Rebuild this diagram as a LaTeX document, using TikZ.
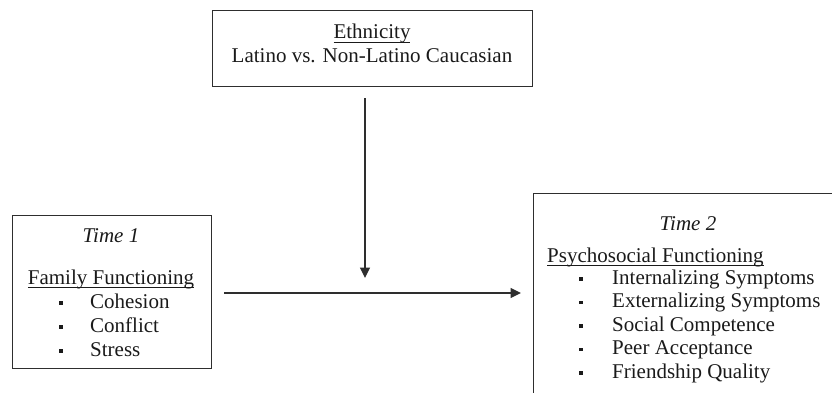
\documentclass[tikz,border=0pt]{standalone}
\usepackage{fontspec}
\setmainfont{Liberation Serif}
\usetikzlibrary{arrows.meta}
\definecolor{ink}{HTML}{1A1A1A}
\definecolor{linec}{HTML}{2E2E2E}
\newcommand\wul[1]{\setbox0\hbox{#1}\rlap{\rule[-4pt]{\wd0}{1.4pt}}\box0}
\tikzset{
  box/.style={draw=linec, line width=1.3pt, inner sep=0pt},
  txt/.style={inner sep=0pt, anchor=base, text=ink, font=\fontsize{21}{23}\selectfont},
  txtl/.style={txt, anchor=base west},
  bul/.style={fill=ink, minimum size=3.8pt, inner sep=0pt},
  arr/.style={draw=linec, line width=1.3pt, -{Triangle[length=10.5pt,width=10pt]}}
}
\begin{document}
\begin{tikzpicture}[x=1pt,y=-1pt]
\useasboundingbox (0,0) rectangle (832,393);
\clip (0,0) rectangle (832,393);
% boxes
\node[box, anchor=north west, minimum width=320pt, minimum height=76pt] (eth) at (212,10) {};
\node[box, anchor=north west, minimum width=199pt, minimum height=153pt] (left) at (12,215) {};
\node[box, anchor=north west, minimum width=340pt, minimum height=240pt] (right) at (533,193) {};
% ethnicity text
\node[txt] (ethT) at (372,39) {\wul{Ethnicity}};
\node[txt] (ethS) at (372,63) {Latino vs. Non-Latino Caucasian};
% left text
\node[txt] (t1) at (111,242) {\textit{Time 1}};
\node[txt] (ff) at (111,284) {\wul{Family Functioning}};
\node[bul] (lb1) at (61,303) {};
\node[txtl] (l1) at (90,308) {Cohesion};
\node[bul] (lb2) at (61,327) {};
\node[txtl] (l2) at (90,332) {Conflict};
\node[bul] (lb3) at (61,351) {};
\node[txtl] (l3) at (90,356) {Stress};
% right text
\node[txt] (t2) at (688,230) {\textit{Time 2}};
\node[txtl] (pf) at (547,262) {\wul{Psychosocial Functioning}};
\node[bul] (rb1) at (581,279) {};
\node[txtl] (r1) at (612,284) {Internalizing Symptoms};
\node[bul] (rb2) at (581,302.5) {};
\node[txtl] (r2) at (612,307.5) {Externalizing Symptoms};
\node[bul] (rb3) at (581,326) {};
\node[txtl] (r3) at (612,331) {Social Competence};
\node[bul] (rb4) at (581,349.5) {};
\node[txtl] (r4) at (612,354.5) {Peer Acceptance};
\node[bul] (rb5) at (581,373) {};
\node[txtl] (r5) at (612,378) {Friendship Quality};
% connectors
\coordinate (mid) at (365,278);
\coordinate (hy) at (400,293);
\draw[arr, shorten <=11pt] (eth.south -| mid) -- (mid);
\draw[arr, shorten <=12pt, shorten >=12pt] (left.east |- hy) -- (right.west |- hy);
\end{tikzpicture}
\end{document}
